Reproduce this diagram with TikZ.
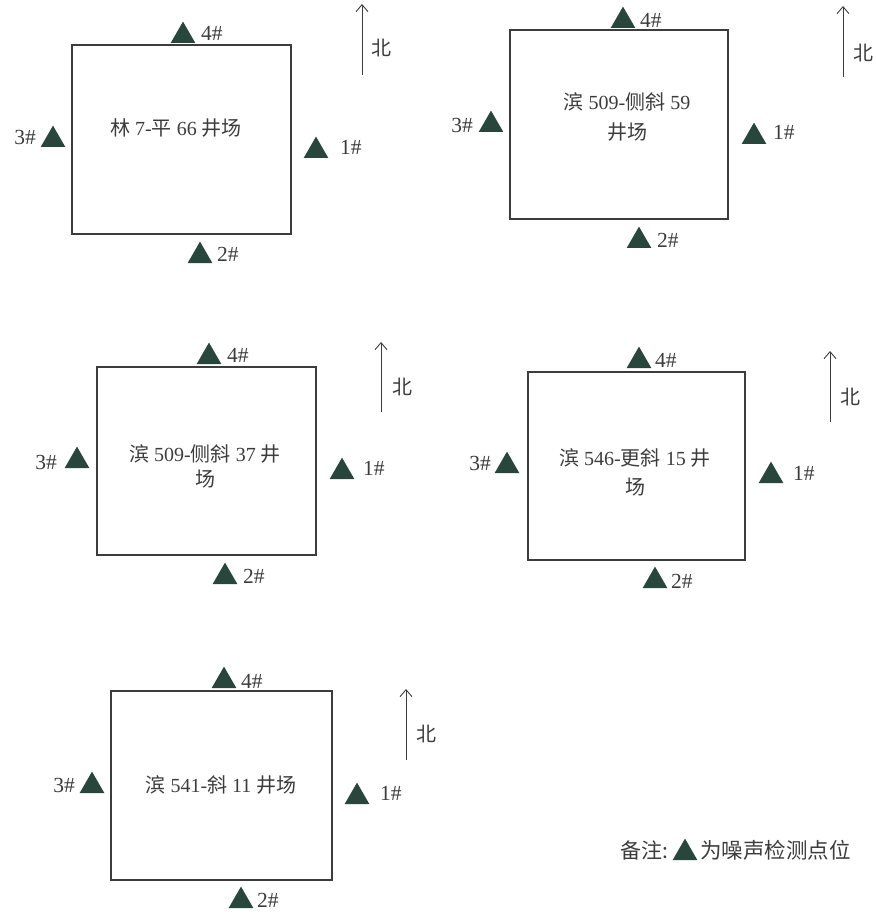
\documentclass[tikz,border=0pt]{standalone}
\usepackage{fontspec}
\setmainfont{Liberation Serif}
\newfontfamily\cjk{Noto Sans CJK SC}
\newcommand{\zh}[1]{{\cjk #1}}
\usetikzlibrary{shapes.geometric,arrows.meta}
\definecolor{mp_green}{RGB}{40, 70, 60}
\definecolor{ink}{RGB}{60, 60, 60}
\tikzstyle{site}=[rectangle,draw=ink,line width=1.4pt,inner sep=0pt,outer sep=0pt]
\tikzstyle{mp}=[regular polygon,regular polygon sides=3,fill=mp_green,
  inner sep=0pt,outer sep=0pt,minimum size=28.5pt,anchor=south]
\tikzstyle{tag}=[text=ink,font=\fontsize{21.5}{24}\selectfont,inner sep=0pt]
\tikzstyle{sitename}=[text=ink,font=\fontsize{20}{23}\selectfont,inner sep=0pt,align=center]
\tikzstyle{northarrow}=[draw=ink,line width=0.9pt,-{Straight Barb[length=7pt,width=12pt]}]

\begin{document}
\begin{tikzpicture}[x=1pt,y=-1pt]
    \useasboundingbox (0,0) rectangle (875,912);

    \node [style=site,minimum width=219pt,minimum height=189pt] (lin) at (181.5,139.5) {};
    \node [style=sitename] (linname) at (176,128) {\zh{林} 7-\zh{平} 66 \zh{井场}};
    \node [style=mp] (lin1) at (316,158) {};
    \node [style=mp] (lin2) at (200,263) {};
    \node [style=mp] (lin3) at (53,147) {};
    \node [style=mp] (lin4) at (183,43) {};
    \node [style=tag,anchor=west] (lin1t) at (340,147) {1\#};
    \node [style=tag,anchor=west] (lin2t) at (217,254) {2\#};
    \node [style=tag,anchor=east] (lin3t) at (36,137) {3\#};
    \node [style=tag,anchor=west] (lin4t) at (201,33) {4\#};
    \coordinate (linn0) at (362,75);
    \coordinate (linn1) at (362,4);
    \draw [style=northarrow] (linn0) to (linn1);
    \node [style=sitename] (linbei) at (381,48) {\zh{北}};

    \node [style=site,minimum width=218pt,minimum height=189pt] (b59) at (619,124.5) {};
    \node [style=sitename] (b59name) at (627,117) {\zh{滨} 509-\zh{侧斜} 59\\[7pt]\zh{井场}};
    \node [style=mp] (b591) at (754,144) {};
    \node [style=mp] (b592) at (639,248) {};
    \node [style=mp] (b593) at (491,132) {};
    \node [style=mp] (b594) at (623,28) {};
    \node [style=tag,anchor=west] (b591t) at (773,132) {1\#};
    \node [style=tag,anchor=west] (b592t) at (657,240) {2\#};
    \node [style=tag,anchor=east] (b593t) at (473,125) {3\#};
    \node [style=tag,anchor=west] (b594t) at (640,20) {4\#};
    \coordinate (b59n0) at (843,77);
    \coordinate (b59n1) at (843,6);
    \draw [style=northarrow] (b59n0) to (b59n1);
    \node [style=sitename] (b59bei) at (863,53) {\zh{北}};

    \node [style=site,minimum width=219pt,minimum height=188pt] (b37) at (206.5,461) {};
    \node [style=sitename] (b37name) at (205,466) {\zh{滨} 509-\zh{侧斜} 37 \zh{井}\\[2pt]\zh{场}};
    \node [style=mp] (b371) at (342,479) {};
    \node [style=mp] (b372) at (225,584) {};
    \node [style=mp] (b373) at (77,468) {};
    \node [style=mp] (b374) at (209,364) {};
    \node [style=tag,anchor=west] (b371t) at (363,468) {1\#};
    \node [style=tag,anchor=west] (b372t) at (243,576) {2\#};
    \node [style=tag,anchor=east] (b373t) at (57,462) {3\#};
    \node [style=tag,anchor=west] (b374t) at (227,355) {4\#};
    \coordinate (b37n0) at (381,412);
    \coordinate (b37n1) at (381,342);
    \draw [style=northarrow] (b37n0) to (b37n1);
    \node [style=sitename] (b37bei) at (402,387) {\zh{北}};

    \node [style=site,minimum width=217pt,minimum height=188pt] (b15) at (636.5,466) {};
    \node [style=sitename] (b15name) at (635,472) {\zh{滨} 546-\zh{更斜} 15 \zh{井}\\[6pt]\zh{场}};
    \node [style=mp] (b151) at (771,483) {};
    \node [style=mp] (b152) at (655,588) {};
    \node [style=mp] (b153) at (507,473) {};
    \node [style=mp] (b154) at (639,368) {};
    \node [style=tag,anchor=west] (b151t) at (793,473) {1\#};
    \node [style=tag,anchor=west] (b152t) at (671,581) {2\#};
    \node [style=tag,anchor=east] (b153t) at (491,463) {3\#};
    \node [style=tag,anchor=west] (b154t) at (655,360) {4\#};
    \coordinate (b15n0) at (830,422);
    \coordinate (b15n1) at (830,351);
    \draw [style=northarrow] (b15n0) to (b15n1);
    \node [style=sitename] (b15bei) at (850,397) {\zh{北}};

    \node [style=site,minimum width=221pt,minimum height=189pt] (b11) at (221.5,785.5) {};
    \node [style=sitename] (b11name) at (221,785) {\zh{滨} 541-\zh{斜} 11 \zh{井场}};
    \node [style=mp] (b111) at (357,804) {};
    \node [style=mp] (b112) at (241,908) {};
    \node [style=mp] (b113) at (92,793) {};
    \node [style=mp] (b114) at (224,688) {};
    \node [style=tag,anchor=west] (b111t) at (380,793) {1\#};
    \node [style=tag,anchor=west] (b112t) at (257,900) {2\#};
    \node [style=tag,anchor=east] (b113t) at (75,785) {3\#};
    \node [style=tag,anchor=west] (b114t) at (241,681) {4\#};
    \coordinate (b11n0) at (406,760);
    \coordinate (b11n1) at (406,689);
    \draw [style=northarrow] (b11n0) to (b11n1);
    \node [style=sitename] (b11bei) at (426,734) {\zh{北}};

    \node [style=sitename,font=\fontsize{21}{24}\selectfont,anchor=west] (note) at (620,850) {\zh{备注:}};
    \node [style=mp] (notemp) at (685,860) {};
    \node [style=sitename,font=\fontsize{21.5}{24}\selectfont,anchor=west] (notet) at (700,850) {\zh{为噪声检测点位}};
\end{tikzpicture}
\end{document}
